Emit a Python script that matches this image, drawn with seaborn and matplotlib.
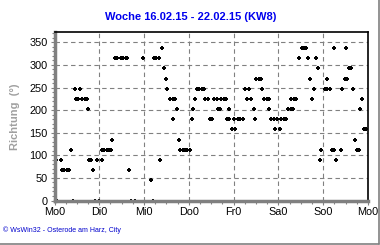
import matplotlib
matplotlib.use("Agg")
import matplotlib.pyplot as plt
import seaborn as sns
import pandas as pd
import numpy as np
from matplotlib.lines import Line2D
from matplotlib.ticker import MultipleLocator

title = "Woche 16.02.15 - 22.02.15 (KW8)"
ylabel = "Richtung  (°)"
footer = "© WsWin32 - Osterode am Harz, City"
day_labels = ["Mo0", "Di0", "Mi0", "Do0", "Fr0", "Sa0", "So0", "Mo0"]
y_ticks = [0, 50, 100, 150, 200, 250, 300, 350]

# hours since Monday 0:00
hours = [0.8, 1.5, 3.3, 4.2, 5.3, 6.5, 7.8, 9.0, 10.0, 11.0, 11.5, 12.8, 13.8, 14.9, 16.2,
         17.4, 18.1, 18.7, 19.7, 20.8, 21.9, 22.8, 24.0, 25.3, 25.5, 26.7, 28.0, 29.2, 30.4,
         31.0, 32.3, 33.3, 35.6, 36.9, 38.2, 38.9, 39.9, 40.8, 43.1, 47.6, 51.9, 53.0, 53.3,
         54.6, 55.8, 56.5, 57.8, 58.8, 59.9, 60.4, 61.7, 63.3, 63.7, 64.7, 65.8, 66.7, 67.4,
         68.7, 69.9, 71.2, 72.5, 73.7, 74.4, 75.3, 76.4, 77.6, 78.9, 80.1, 80.8, 82.3, 83.3,
         84.6, 85.5, 86.9, 87.4, 88.5, 89.4, 90.7, 91.9, 92.4, 93.5, 93.7, 95.3, 96.0, 96.9,
         98.3, 99.6, 100.9, 102.3, 103.3, 104.1, 105.5, 106.7, 107.6, 108.1, 109.4, 110.7,
         111.4, 112.4, 113.7, 115.0, 115.1, 116.2, 117.5, 118.2, 119.4, 120.7, 121.5, 122.8,
         124.1, 125.3, 126.6, 126.6, 127.8, 128.3, 129.6, 131.2, 132.5, 133.7, 134.9, 136.0,
         137.1, 138.2, 139.2, 140.3, 141.4, 142.3, 143.0, 145.0, 146.0, 146.0, 147.5, 148.5,
         149.6, 150.0, 151.0, 153.4, 154.1, 155.5, 156.4, 156.8, 158.0, 159.1, 160.1, 161.2,
         162.3, 163.3, 163.9, 165.0, 165.9, 167.1]
direction = [90, 0, 90, 67.5, 67.5, 67.5, 67.5, 112.5, 0, 247.5, 225, 225, 247.5, 225, 225,
             225, 202.5, 90, 90, 67.5, 0, 90, 0, 90, 112.5, 112.5, 112.5, 112.5, 112.5,
             135, 315, 315, 315, 315, 315, 315, 67.5, 0, 0, 315, 45, 0, 315,
             315, 315, 90, 337.5, 292.5, 270, 247.5, 225, 225, 180, 225, 202.5, 135, 112.5,
             112.5, 112.5, 112.5, 112.5, 180, 202.5, 225, 247.5, 247.5, 247.5, 247.5, 225, 225, 180,
             180, 225, 225, 202.5, 202.5, 225, 225, 225, 180, 202.5, 180, 157.5, 180, 157.5,
             180, 180, 180, 247.5, 225, 247.5, 225, 202.5, 180, 270, 270, 270,
             247.5, 225, 225, 225, 202.5, 180, 180, 157.5, 180, 157.5, 180, 180,
             180, 202.5, 202.5, 225, 202.5, 225, 225, 315, 337.5, 337.5, 337.5, 315,
             270, 225, 247.5, 315, 292.5, 90, 112.5, 247.5, 270, 247.5, 247.5, 112.5,
             112.5, 337.5, 90, 112.5, 247.5, 270, 337.5, 270, 292.5, 292.5, 247.5, 135,
             112.5, 112.5, 202.5, 225, 157.5, 157.5]

df = pd.DataFrame({"h": hours, "dir": direction})

sns.set_style("white")
plt.rcParams["font.family"] = ["Liberation Sans", "DejaVu Sans"]

fig = plt.figure(figsize=(3.8, 2.45), dpi=100)
ax = fig.add_axes([54.5 / 380, 1 - 200.5 / 245, (368 - 54.5) / 380, (200.5 - 32) / 245])

sns.scatterplot(data=df, x="h", y="dir", ax=ax, marker="P", s=5, color="black",
                edgecolor="black", linewidth=0, legend=False)

ax.set_xlim(0, 168)
ax.set_ylim(0, 373)
ax.set_xticks(np.arange(0, 169, 24))
ax.set_xticklabels(day_labels, fontsize=7.8)
ax.xaxis.set_minor_locator(MultipleLocator(6))
ax.set_yticks(y_ticks)
ax.set_yticklabels([str(v) for v in y_ticks], fontsize=7.8)
ax.yaxis.set_minor_locator(MultipleLocator(10))

ax.grid(True, which="major", color="#808080", linestyle=(0, (4, 3)), linewidth=0.8)
ax.set_axisbelow(True)

for side in ["left", "bottom"]:
    ax.spines[side].set_color("#808080")
    ax.spines[side].set_linewidth(2.5)
for side in ["top", "right"]:
    ax.spines[side].set_color("black")
    ax.spines[side].set_linewidth(1.2)

ax.tick_params(axis="both", which="major", direction="out", length=3, width=0.8,
               color="#808080", pad=2, labelcolor="black")
ax.tick_params(axis="both", which="minor", direction="out", length=2.5, width=0.8,
               color="#808080")
ax.tick_params(axis="x", which="both", bottom=True)
ax.tick_params(axis="y", which="both", left=True)

ax.set_xlabel("")
ax.set_ylabel(ylabel, fontsize=8, fontweight="bold", color="#a0a0a0", labelpad=7)

fig.text(0.5 * (107 + 275) / 380, 1 - 17 / 245, title, ha="center", va="center",
         fontsize=8, fontweight="bold", color="#0000ee")
fig.text(3 / 380, 1 - 230 / 245, footer, ha="left", va="center", fontsize=5,
         color="#0000cc")

fig.add_artist(Line2D([378.5 / 380, 378.5 / 380], [1 - 243.5 / 245, 1], transform=fig.transFigure,
                      color="#808080", linewidth=1.2))
fig.add_artist(Line2D([0, 378.5 / 380], [1 - 243.5 / 245, 1 - 243.5 / 245], transform=fig.transFigure,
                      color="#808080", linewidth=1.2))

fig.savefig("out.png", dpi=100)
